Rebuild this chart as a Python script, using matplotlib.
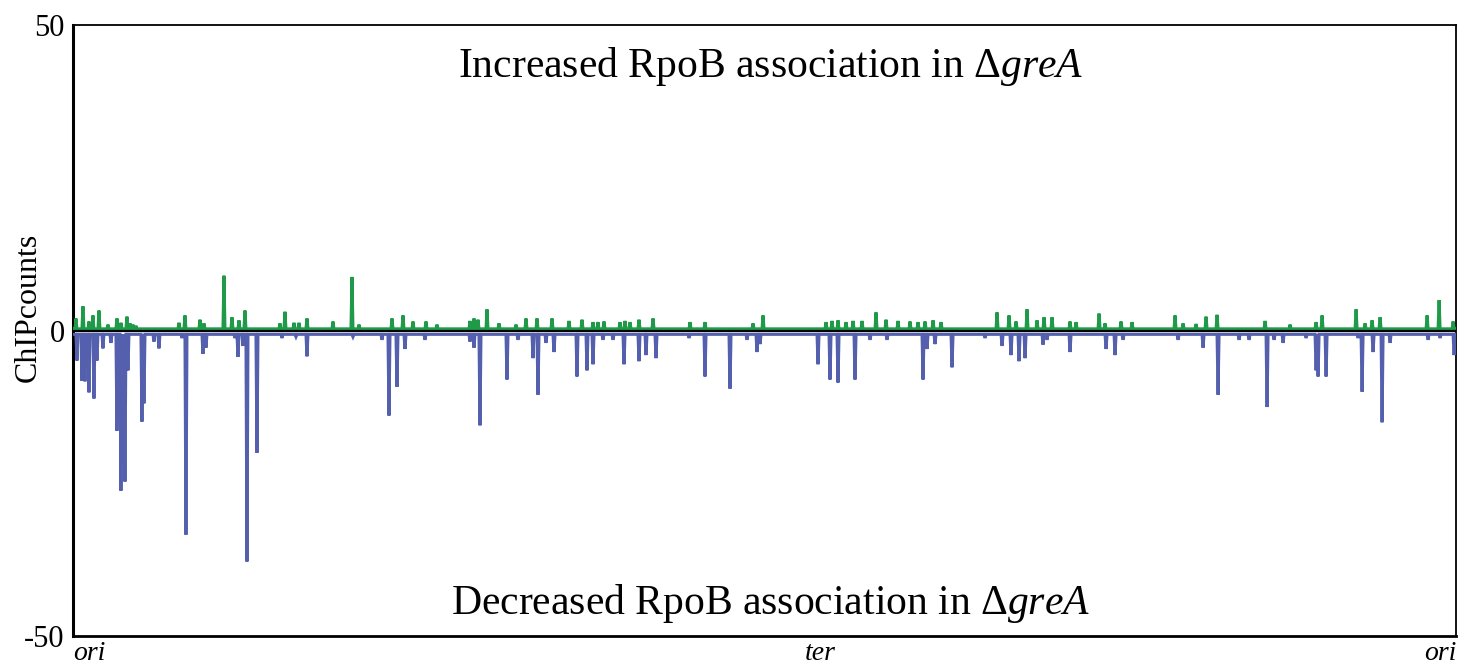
import numpy as np
import matplotlib
matplotlib.use("Agg")
import matplotlib.pyplot as plt

plt.rcParams["font.family"] = ["Liberation Serif", "DejaVu Serif"]
plt.rcParams["mathtext.fontset"] = "custom"
plt.rcParams["mathtext.it"] = "Liberation Serif:italic"
plt.rcParams["mathtext.rm"] = "Liberation Serif"

# Genome bins, ori -> ter -> ori
n_bins = 1384
ter_bin = 747

# Increased association (green): bin index and ChIP count difference
up_bins = [3, 10, 16, 20, 26, 35, 44, 48, 54, 57, 60, 63, 106, 112, 127, 131,
           151, 159, 166, 172, 207, 212, 221, 226, 234, 260, 279, 286, 319,
           330, 340, 353, 364, 397, 401, 405, 414, 426, 443, 453, 464, 479,
           496, 509, 520, 525, 531, 547, 552, 557, 566, 580, 617, 632, 680,
           690, 753, 759, 765, 773, 780, 789, 803, 813, 825, 837, 845, 852,
           860, 868, 924, 936, 943, 954, 964, 971, 979, 997, 1003, 1026, 1032,
           1048, 1059, 1102, 1110, 1123, 1133, 1144, 1192, 1217, 1243, 1249,
           1283, 1292, 1299, 1307, 1354, 1366, 1380]
up_vals = [2.0, 4.0, 1.5, 2.5, 3.3, 1.0, 2.0, 1.3, 2.3, 1.2, 1.0, 0.8, 1.3,
           2.5, 1.8, 1.2, 9.0, 2.2, 1.7, 3.3, 1.2, 3.1, 1.3, 1.3, 2.0, 1.5,
           8.8, 1.0, 2.0, 2.5, 1.5, 1.5, 1.0, 1.6, 2.0, 1.8, 3.5, 1.2, 1.0,
           2.0, 2.0, 2.0, 1.6, 1.8, 1.4, 1.4, 1.5, 1.4, 1.6, 1.4, 1.8, 2.0,
           1.4, 1.4, 1.2, 2.5, 1.4, 1.6, 1.7, 1.4, 1.6, 1.6, 3.0, 1.8, 1.6,
           1.5, 1.4, 1.5, 1.7, 1.4, 3.0, 2.5, 1.5, 3.5, 1.7, 2.2, 2.2, 1.5,
           1.4, 2.8, 1.2, 1.5, 1.4, 2.5, 1.2, 1.1, 2.3, 2.6, 1.6, 1.0, 1.4,
           2.5, 3.5, 1.2, 1.7, 2.2, 2.5, 5.0, 1.5]

# Decreased association (blue)
down_bins = [4, 9, 12, 16, 21, 24, 30, 38, 44, 48, 50, 52, 55, 69, 71, 81, 86,
             109, 113, 130, 133, 162, 165, 170, 174, 184, 209, 223, 234, 280,
             309, 316, 324, 332, 352, 397, 401, 407, 434, 445, 460, 465, 473,
             481, 504, 514, 520, 530, 540, 551, 566, 573, 583, 616, 632, 657,
             674, 684, 687, 745, 757, 765, 782, 797, 814, 850, 854, 862, 879,
             912, 929, 938, 946, 952, 970, 974, 997, 1033, 1042, 1050, 1105,
             1130, 1145, 1166, 1176, 1194, 1201, 1210, 1233, 1243, 1245, 1253,
             1285, 1289, 1300, 1309, 1317, 1355, 1367, 1381]
down_vals = [-4.9, -8.2, -8.3, -10.1, -11.1, -4.9, -2.9, -2.0, -16.4, -26.2,
             -21.8, -24.7, -6.5, -14.9, -11.9, -1.8, -2.9, -1.2, -33.4, -3.8,
             -2.8, -1.2, -4.3, -2.5, -37.8, -20.0, -1.2, -1.0, -4.2, -1.0,
             -1.5, -13.9, -9.2, -3.0, -1.5, -1.8, -2.8, -15.5, -8.0, -1.5,
             -4.5, -10.5, -2.0, -3.5, -7.5, -6.5, -5.5, -1.5, -1.5, -5.5,
             -5.0, -4.0, -4.5, -1.2, -7.5, -9.5, -1.5, -3.5, -2.2, -5.5, -8.0,
             -8.5, -8.0, -1.5, -1.5, -8.0, -3.0, -2.2, -6.0, -1.2, -2.5, -4.0,
             -5.0, -4.5, -2.3, -1.5, -3.5, -3.0, -4.0, -1.5, -1.5, -2.8,
             -10.5, -1.5, -1.5, -12.5, -1.5, -2.0, -1.2, -6.5, -7.5, -7.5,
             -1.2, -10.0, -3.5, -15.0, -2.0, -1.5, -1.2, -4.0]

up_base = 0.3
down_base = -0.6

y_ticks = [-50, 0, 50]
y_tick_labels = ["-50", "0", "50"]
locus_labels = ["ori", "ter", "ori"]

green = "#1f9a48"
blue = "#5460ad"

bins = np.arange(n_bins)
up_track = np.full(n_bins, up_base)
up_track[up_bins] = up_vals
down_track = np.full(n_bins, down_base)
down_track[down_bins] = down_vals

fig = plt.figure(figsize=(14.59, 6.64), dpi=100)
ax = fig.add_axes([0.050, 0.042, 0.948, 0.920])

ax.plot(bins, up_track, color=green, lw=2.2, solid_joinstyle="miter", zorder=3)
ax.plot(bins, down_track, color=blue, lw=2.2, solid_joinstyle="miter", zorder=3)
ax.axhline(0, color="black", lw=1.6, zorder=4)

ax.set_xlim(0, n_bins - 1)
ax.set_ylim(-50, 50)
ax.set_yticks(y_ticks)
ax.set_yticklabels(y_tick_labels)
ax.set_xticks([])
ax.tick_params(axis="y", length=0, pad=6, labelsize=22)

# y-axis title placed in figure coordinates so it sits left of the tick labels
fig.text(28 / 1459, 1 - 307 / 664, "ChIPcounts", rotation=90,
         ha="center", va="center", fontsize=23)

for side, lw in [("left", 2.2), ("bottom", 2.0), ("top", 1.3), ("right", 1.3)]:
    ax.spines[side].set_linewidth(lw)
    ax.spines[side].set_color("black")

ax.text(0.5 * (n_bins - 1) + 6, 43.3,
        r"Increased RpoB association in Δ$\mathit{greA}$",
        ha="center", va="center", fontsize=30)
ax.text(0.5 * (n_bins - 1) + 6, -44.6,
        r"Decreased RpoB association in Δ$\mathit{greA}$",
        ha="center", va="center", fontsize=30)

trans = ax.get_xaxis_transform()
for xpos, label, ha in [(0, locus_labels[0], "left"),
                        (ter_bin, locus_labels[1], "center"),
                        (n_bins - 1, locus_labels[2], "right")]:
    ax.text(xpos, -0.008, label, transform=trans, ha=ha, va="top",
            fontsize=20, style="italic")

fig.savefig("out.png", dpi=100)
